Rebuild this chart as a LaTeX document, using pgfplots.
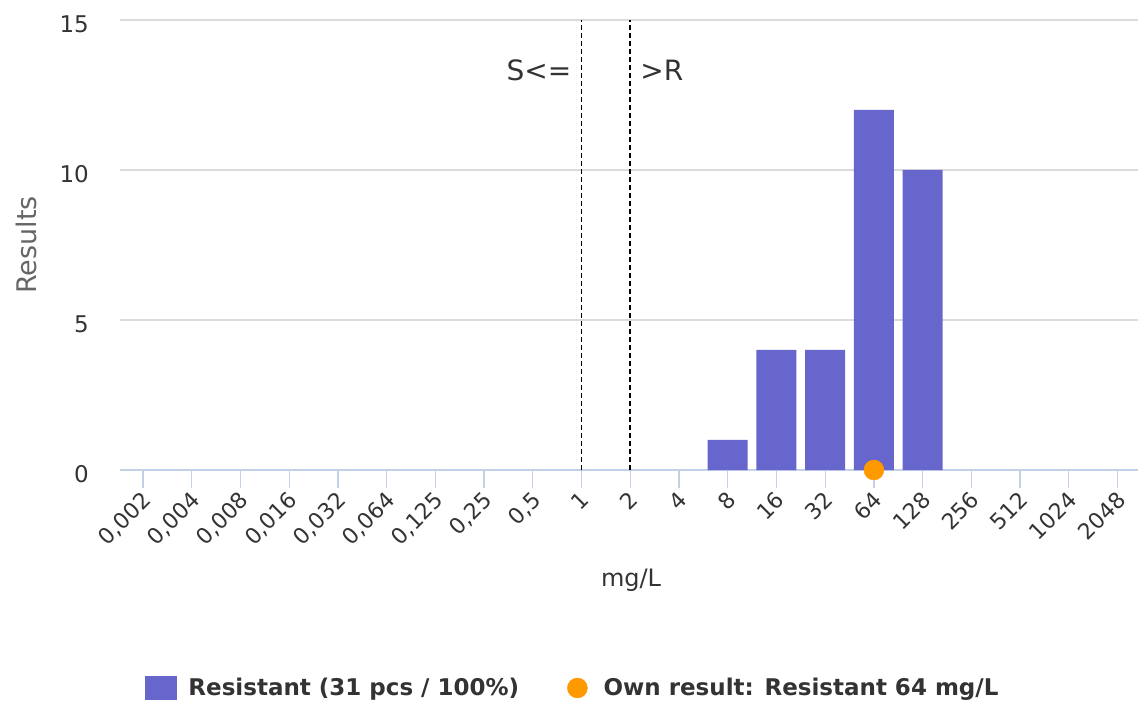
\documentclass[border=0pt]{standalone}
\usepackage{fontspec}
\setmainfont{DejaVu Sans}
\usepackage{pgfplots}
\pgfplotsset{compat=1.18}
\definecolor{barc}{RGB}{102,102,204}
\definecolor{orng}{RGB}{255,153,0}
\definecolor{axisc}{RGB}{196,208,232}
\definecolor{gridc}{RGB}{218,218,218}
\definecolor{txt}{RGB}{51,51,51}
\definecolor{ttl}{RGB}{102,102,102}
\begin{document}
\begin{tikzpicture}
\useasboundingbox (0,0) rectangle (1138bp,713bp);
\begin{axis}[
  at={(120bp,243bp)}, anchor=south west,
  width=1018bp, height=450bp, scale only axis,
  xmin=-0.472, xmax=20.42, ymin=0, ymax=15,
  clip=false,
  axis x line=bottom, axis y line=left,
  x axis line style={-, draw=axisc, line width=1.2bp},
  y axis line style={draw=none},
  xtick={0,...,20},
  xticklabels={{0,002},{0,004},{0,008},{0,016},{0,032},{0,064},{0,125},{0,25},{0,5},1,2,4,8,16,32,64,128,256,512,1024,2048},
  xtick align=outside,
  major tick length=18bp,
  xtick style={draw=axisc, line width=1.2bp},
  ytick={0,5,10,15},
  yticklabels={0,5,10,15},
  ytick style={draw=none},
  ymajorgrids,
  grid style={draw=gridc, line width=1.1bp},
  xticklabel style={font=\fontsize{22bp}{24bp}\selectfont, text=txt, rotate=45, anchor=north east, inner sep=0pt, xshift=-3bp},
  yticklabel style={font=\fontsize{23bp}{25bp}\selectfont, text=txt, anchor=east, inner sep=0pt, xshift=-22bp, yshift=-4bp},
  every axis x label/.style={at={(axis description cs:0.502,-0.2578)}, anchor=base, inner sep=0pt, font=\fontsize{24bp}{26bp}\selectfont, text=txt},
  every axis y label/.style={at={(axis description cs:-0.0923,0.5)}, rotate=90, anchor=center, inner sep=0pt, font=\fontsize{27bp}{29bp}\selectfont, text=ttl},
  xlabel={mg/L},
  ylabel={Results},
  legend columns=2,
  legend style={at={(axis description cs:0.444,-0.4844)}, anchor=center, draw=none, fill=none,
    font=\bfseries\fontsize{23bp}{26bp}\selectfont, text=txt,
    nodes={inner sep=0pt},
    /tikz/every even column/.append style={column sep=48bp}},
]
\addplot[ybar, bar width=40bp, fill=barc, draw=none,
  legend image code/.code={\fill[barc] (0bp,-12bp) rectangle (32bp,12bp); \path (43bp,0);}]
  coordinates {(12,1) (13,4) (14,4) (15,12) (16,10)};
\addlegendentry{Resistant (31 pcs / 100\%)}
\addplot[only marks, mark=*, mark size=10bp, draw=orng, fill=orng,
  legend image code/.code={\fill[orng] (10bp,0) circle (10bp); \path (0,0) (36bp,0);}]
  coordinates {(15,0)};
\addlegendentry{Own result: Resistant 64 mg/L}
\addplot[black, line width=1.6bp, dash pattern=on 5bp off 3bp, forget plot] coordinates {(9,0) (9,15)};
\addplot[black, line width=1.6bp, dash pattern=on 5bp off 3bp, forget plot] coordinates {(10,0) (10,15)};
\node[anchor=east, inner sep=0pt, xshift=-10bp, font=\fontsize{28bp}{30bp}\selectfont, text=txt] at (axis cs:9,13.32) {S<=};
\node[anchor=west, inner sep=0pt, xshift=10bp, font=\fontsize{28bp}{30bp}\selectfont, text=txt] at (axis cs:10,13.32) {>R};
\end{axis}
\end{tikzpicture}
\end{document}
